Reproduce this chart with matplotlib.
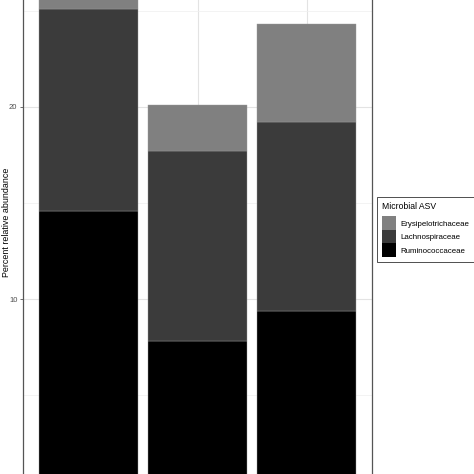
import matplotlib
matplotlib.use("Agg")
import matplotlib.pyplot as plt
import numpy as np

plt.rcParams["font.family"] = ["Liberation Sans", "DejaVu Sans"]

# stacked relative abundance per group (percent)
groups = ["A", "B", "C"]
taxa = ["Ruminococcaceae", "Lachnospiraceae", "Erysipelotrichaceae"]
ruminococcaceae = [14.6, 7.8, 9.4]
lachnospiraceae = [10.5, 9.9, 9.8]
erysipelotrichaceae = [2.0, 2.4, 5.1]
colors = {"Ruminococcaceae": "#000000",
          "Lachnospiraceae": "#3b3b3b",
          "Erysipelotrichaceae": "#808080"}

fig = plt.figure(figsize=(4.74, 4.74), dpi=100)
ax = fig.add_axes([23 / 474, 0, 349 / 474, 1])

x = np.arange(1, len(groups) + 1)
bottom = np.zeros(len(groups))
handles = {}
for name, vals in zip(taxa, [ruminococcaceae, lachnospiraceae, erysipelotrichaceae]):
    h = ax.bar(x, vals, width=0.9, bottom=bottom, color=colors[name],
               edgecolor="#9a9a9a", linewidth=0.3, zorder=3)
    handles[name] = h
    bottom += np.array(vals)

ax.set_xlim(0.4, 3.6)
ax.set_ylim(0.89, 25.57)
ax.set_yticks([10, 20])
ax.set_yticks([5, 15, 25], minor=True)
ax.set_xticks(x)
ax.grid(True, which="major", color="#e3e3e3", linewidth=0.8, zorder=0)
ax.grid(True, which="minor", axis="y", color="#efefef", linewidth=0.5, zorder=0)
ax.tick_params(axis="y", which="major", labelsize=5.5, length=2.5, width=0.5,
               color="#333333", labelcolor="#4d4d4d", pad=1.5)
ax.tick_params(axis="y", which="minor", length=0)
ax.tick_params(axis="x", length=0, labelbottom=False)
for side in ["top", "bottom"]:
    ax.spines[side].set_visible(False)
for side in ["left", "right"]:
    ax.spines[side].set_color("#555555")
    ax.spines[side].set_linewidth(0.9)
ax.set_ylabel("Percent relative abundance", fontsize=6.4)
ax.yaxis.set_label_coords(-0.034, 0.53)

order = ["Erysipelotrichaceae", "Lachnospiraceae", "Ruminococcaceae"]
leg = fig.legend([handles[n] for n in order], order, title="Microbial ASV",
                 loc="upper left", bbox_to_anchor=(377 / 474, 1 - 197 / 474),
                 fontsize=5.7, title_fontsize=6.2, frameon=True, fancybox=False,
                 handlelength=1.75, handleheight=2.25, handletextpad=0.6,
                 labelspacing=0.0, borderpad=0.6, borderaxespad=0,
                 alignment="left")
leg._legend_box.sep = 4  # gap between title and keys
leg.get_frame().set_edgecolor("#000000")
leg.get_frame().set_linewidth(0.6)
for patch in leg.get_patches():
    patch.set_edgecolor("none")

fig.savefig("out.png", dpi=100)
